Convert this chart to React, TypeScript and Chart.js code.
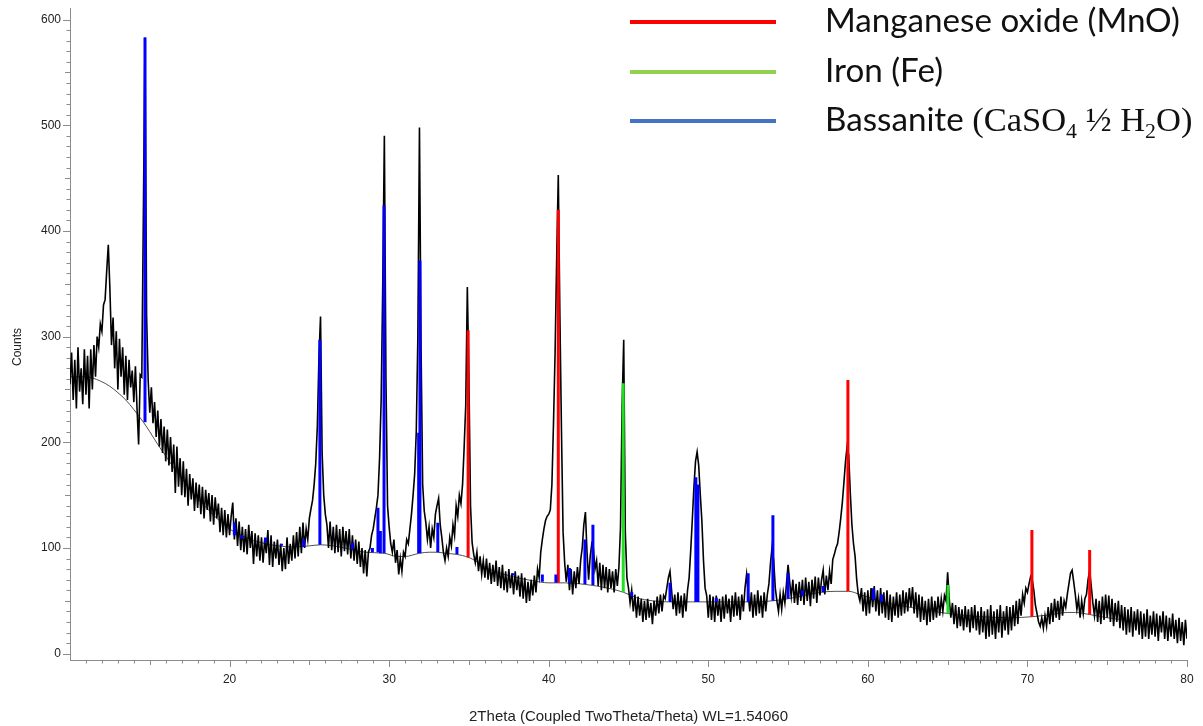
import React, { useEffect, useRef } from "react";
import { Chart, registerables } from "chart.js";

Chart.register(...registerables);

// ---- measured XRD pattern (counts), 2Theta from 10.0 in 0.1 deg steps ----
const START_2THETA = 10;
const STEP_2THETA = 0.1;

const COUNTS_10S = [
  255, 285, 240, 278, 232, 290, 248, 270, 236, 288,
  245, 282, 232, 288, 250, 292, 262, 300, 290, 312,
  305, 330, 335, 362, 387, 345, 292, 318, 270, 305,
  250, 298, 262, 290, 245, 282, 240, 278, 252, 268,
  238, 272, 232, 198, 264, 262, 420, 583, 320, 258,
  228, 252, 218, 238, 205, 230, 196, 222, 190, 215,
  182, 212, 178, 205, 172, 198, 152, 196, 158, 185,
  150, 182, 148, 175, 140, 170, 146, 166, 135, 162,
  138, 160, 132, 158, 128, 155, 136, 152, 125, 150,
  122, 148, 128, 142, 115, 138, 112, 136, 110, 132,
];
const COUNTS_20S = [
  112, 130, 143, 108, 128, 102, 125, 98, 120, 96,
  118, 94, 122, 100, 116, 85, 114, 92, 112, 88,
  110, 86, 108, 95, 117, 84, 112, 82, 106, 90,
  108, 84, 104, 78, 100, 80, 110, 85, 104, 88,
  112, 90, 115, 92, 120, 95, 124, 100, 118, 108,
  128, 137, 145, 160, 180, 215, 280, 319, 190, 150,
  132, 122, 100, 125, 98, 120, 95, 122, 96, 118,
  92, 120, 97, 116, 94, 118, 90, 112, 88, 108,
  85, 106, 82, 100, 76, 98, 73, 96, 100, 112,
  118, 128, 138, 150, 185, 240, 350, 490, 260, 140,
];
const COUNTS_30S = [
  120, 104, 96, 108, 86, 98, 75, 90, 78, 96,
  92, 108, 104, 118, 132, 150, 170, 210, 300, 498,
  290, 160, 135, 124, 108, 120, 100, 118, 110, 132,
  140, 147, 122, 110, 96, 88, 100, 92, 110, 102,
  122, 112, 140, 130, 150, 142, 160, 195, 235, 347,
  260, 140, 105, 94, 86, 96, 78, 92, 75, 88,
  72, 90, 70, 86, 66, 84, 68, 88, 64, 82,
  62, 84, 60, 78, 58, 80, 62, 76, 56, 78,
  60, 74, 54, 76, 52, 72, 48, 68, 50, 70,
  55, 74, 58, 80, 72, 96, 108, 118, 126, 130,
];
const COUNTS_40S = [
  132, 136, 160, 218, 285, 375, 453, 320, 210, 115,
  86, 68, 84, 60, 80, 56, 78, 62, 82, 66,
  88, 100, 122, 134, 96, 70, 92, 104, 100, 80,
  88, 64, 86, 60, 84, 62, 82, 58, 80, 62,
  78, 58, 80, 64, 82, 120, 235, 297, 115, 72,
  62, 48, 60, 40, 56, 34, 54, 36, 52, 30,
  50, 32, 52, 34, 48, 28, 50, 36, 54, 38,
  56, 40, 55, 52, 62, 72, 78, 60, 42, 56,
  36, 58, 38, 55, 34, 57, 40, 60, 72, 98,
  127, 158, 182, 191, 178, 150, 125, 88, 62, 55,
];
const COUNTS_50S = [
  34, 56, 32, 54, 30, 55, 36, 52, 30, 54,
  33, 56, 38, 52, 30, 55, 35, 58, 36, 54,
  32, 56, 40, 62, 75, 58, 40, 58, 34, 56,
  36, 60, 38, 55, 34, 58, 40, 56, 66, 86,
  101, 88, 62, 50, 40, 56, 42, 58, 48, 66,
  84, 68, 54, 70, 48, 66, 46, 68, 50, 70,
  46, 72, 50, 68, 45, 70, 52, 73, 48, 72,
  55, 70, 79, 56, 74, 60, 78, 66, 89, 94,
  100, 104, 115, 128, 143, 162, 182, 196, 188, 152,
  122, 104, 92, 70, 56, 50, 62, 40, 58, 36,
];
const COUNTS_60S = [
  60, 38, 62, 44, 64, 40, 60, 36, 62, 38,
  58, 34, 60, 32, 56, 30, 54, 36, 58, 34,
  56, 36, 60, 38, 58, 40, 62, 44, 63, 38,
  58, 34, 56, 30, 54, 32, 50, 27, 52, 30,
  54, 32, 50, 34, 54, 36, 52, 40, 55, 50,
  77, 52, 34, 48, 28, 46, 24, 44, 26, 42,
  22, 45, 25, 42, 20, 44, 24, 46, 22, 40,
  18, 44, 20, 40, 14, 42, 16, 46, 18, 40,
  14, 42, 20, 46, 15, 40, 22, 45, 18, 44,
  22, 46, 26, 50, 28, 52, 36, 56, 48, 62,
];
const COUNTS_70S = [
  58, 66, 73, 70, 60, 46, 38, 30, 26, 34,
  24, 36, 26, 44, 28, 48, 30, 52, 34, 50,
  32, 54, 36, 50, 44, 56, 66, 76, 79, 68,
  56, 42, 52, 34, 50, 38, 52, 56, 70, 79,
  64, 48, 36, 52, 30, 50, 28, 54, 32, 56,
  34, 55, 30, 52, 26, 48, 30, 50, 24, 46,
  22, 44, 18, 42, 20, 44, 16, 40, 22, 42,
  18, 40, 14, 38, 16, 42, 14, 36, 18, 40,
  16, 38, 12, 36, 20, 40, 14, 36, 12, 34,
  16, 38, 14, 32, 10, 34, 12, 30, 8, 32,
];
const COUNTS_80 = [14];

// ---- fitted background ----
const BACKGROUND_2THETA = [
  10, 11, 11.9, 12.5, 13, 13.5, 14, 14.6, 15, 15.5,
  16, 16.5, 17, 17.5, 18, 18.5, 19, 19.5, 20, 21,
  22, 23, 24, 25, 25.7, 26.5, 27.5, 28.5, 29.7, 30.5,
  31, 31.9, 32.5, 33, 33.5, 34.2, 35, 35.5, 36, 37,
  38, 39, 40, 41, 42, 43, 44, 44.7, 45.5, 46.5,
  47.5, 49, 51, 53, 54, 55, 56, 57, 58, 58.8,
  59.5, 60.5, 61.5, 63, 65, 67, 69, 70.3, 71.5, 72.5,
  73, 73.9, 75, 76,
];
const BACKGROUND_COUNTS = [
  262, 262, 258, 253, 247, 240, 231, 219, 210, 198,
  187, 176, 166, 156, 147, 139, 131, 124, 118, 110,
  105, 102, 101, 102, 103, 102, 99, 96, 95, 92,
  92, 95, 96, 96, 95, 94, 91, 87, 82, 76,
  72, 69, 67, 67, 66, 64, 61, 58, 53, 50,
  49, 49, 49, 49, 50, 52, 55, 58, 59, 59,
  56, 51, 47, 43, 38, 35, 34, 35, 37, 39,
  39, 37, 34, 32,
];

// ---- reference patterns (stick positions, top and base counts) ----
const MNO_2THETA = [34.95, 40.6, 58.75, 70.28, 73.9];
const MNO_TOP = [306, 420, 259, 117, 98];
const MNO_BASE = [91, 67, 59, 35, 37];

const FE_2THETA = [44.67, 65.02];
const FE_TOP = [256, 65];
const FE_BASE = [58, 38];

const BASSANITE_2THETA = [
  14.7, 20.3, 20.75, 22.25, 23.25, 24.65, 25.66, 27.7, 28.95, 29.3,
  29.45, 29.68, 31.85, 31.93, 33.05, 34.25, 37.76, 39.6, 40.45, 41.3,
  42.27, 42.77, 45.2, 47.6, 49.22, 49.35, 50.5, 52.5, 54.05, 55.0,
  55.9, 57.2, 60.35, 60.85,
];
const BASSANITE_TOP = [
  583, 124, 112, 110, 104, 108, 297, 105, 100, 138,
  116, 424, 209, 372, 124, 101, 76, 75, 75, 81,
  108, 122, 58, 67, 167, 160, 53, 76, 131, 76,
  60, 64, 62, 56,
];
const BASSANITE_BASE = [
  219, 112, 109, 105, 102, 101, 103, 99, 96, 96,
  95, 95, 95, 95, 96, 94, 74, 68, 67, 67,
  66, 65, 54, 49, 49, 49, 49, 49, 50, 52,
  55, 58, 51, 49,
];

// ---- axes ----
const X_MIN = 10;
const X_MAX = 80;
const Y_MIN = -6;
const Y_MAX = 611;
const X_TICKS = [20, 30, 40, 50, 60, 70, 80];
const Y_TICKS = [0, 100, 200, 300, 400, 500, 600];
const X_TITLE = "2Theta (Coupled TwoTheta/Theta) WL=1.54060";
const Y_TITLE = "Counts";

// ---- legend ----
type Part = { text: string; serif?: boolean; sub?: boolean };
const LEGEND_COLORS = ["#FF0000", "#92D050", "#4472C4"];
const LEGEND_TEXTS: Part[][] = [
  [{ text: "Manganese oxide (MnO)" }],
  [{ text: "Iron (Fe)" }],
  [
    { text: "Bassanite " },
    { text: "(CaSO", serif: true },
    { text: "4", serif: true, sub: true },
    { text: " \u00BD H", serif: true },
    { text: "2", serif: true, sub: true },
    { text: "O)", serif: true },
  ],
];

const AXIS_COLOR = "#8c8c8c";
const TEXT_COLOR = "#222222";
const SANS = "'Liberation Sans', Arial, sans-serif";
const LEGEND_SANS = "Lato, 'Open Sans', sans-serif";
const LEGEND_SERIF = "'Liberation Serif', 'DejaVu Serif', serif";

function stickPoints(pos: number[], top: number[], base: number[]) {
  const pts: { x: number; y: number | null }[] = [];
  pos.forEach((p, i) => {
    pts.push({ x: p, y: base[i] }, { x: p, y: top[i] }, { x: p, y: null });
  });
  return pts;
}

const decorations = {
  id: "xrdDecorations",
  afterDraw(chart: any) {
    const { ctx, chartArea } = chart;
    const xs = chart.scales.x;
    const ys = chart.scales.y;
    ctx.save();
    // minor / major ticks
    ctx.strokeStyle = AXIS_COLOR;
    ctx.lineWidth = 1;
    ctx.beginPath();
    for (let t = X_MIN + 1; t <= X_MAX; t++) {
      const px = Math.round(xs.getPixelForValue(t)) + 0.5;
      const len = t % 10 === 0 ? 7 : t % 5 === 0 ? 5 : 3.5;
      ctx.moveTo(px, chartArea.bottom);
      ctx.lineTo(px, chartArea.bottom + len);
    }
    for (let v = 0; v <= 600; v += 10) {
      const py = Math.round(ys.getPixelForValue(v)) + 0.5;
      const len = v % 100 === 0 ? 7 : v % 50 === 0 ? 5 : 3.5;
      ctx.moveTo(chartArea.left, py);
      ctx.lineTo(chartArea.left - len, py);
    }
    ctx.stroke();

    // y axis title
    ctx.save();
    ctx.translate(18, 347);
    ctx.rotate(-Math.PI / 2);
    ctx.fillStyle = TEXT_COLOR;
    ctx.font = `12px ${SANS}`;
    ctx.textAlign = "center";
    ctx.textBaseline = "middle";
    ctx.fillText(Y_TITLE, 0, 0);
    ctx.restore();

    // legend (top right)
    const lineX0 = 630;
    const lineX1 = 776;
    const textX = 825;
    const rowY = [22, 72, 121];
    ctx.font = `30px ${LEGEND_SANS}`;
    const w = ctx.measureText("Manganese oxide (MnO)").width;
    const size = (30 * 355) / w;
    LEGEND_TEXTS.forEach((parts, i) => {
      ctx.strokeStyle = LEGEND_COLORS[i];
      ctx.lineWidth = 4;
      ctx.beginPath();
      ctx.moveTo(lineX0, rowY[i]);
      ctx.lineTo(lineX1, rowY[i]);
      ctx.stroke();
      let x = textX;
      const base = rowY[i] + 10;
      ctx.fillStyle = "#111";
      ctx.textAlign = "left";
      ctx.textBaseline = "alphabetic";
      parts.forEach((p) => {
        const fs = p.serif ? (p.sub ? size * 0.66 : size * 1.04) : size;
        ctx.font = `${fs}px ${p.serif ? LEGEND_SERIF : LEGEND_SANS}`;
        ctx.fillText(p.text, x, base + (p.sub ? size * 0.2 : 0));
        x += ctx.measureText(p.text).width;
      });
    });
    ctx.restore();
  },
};

export default function App() {
  const canvasRef = useRef<HTMLCanvasElement | null>(null);

  useEffect(() => {
    const canvas = canvasRef.current;
    if (!canvas) return;
    const counts = [
      ...COUNTS_10S, ...COUNTS_20S, ...COUNTS_30S, ...COUNTS_40S,
      ...COUNTS_50S, ...COUNTS_60S, ...COUNTS_70S, ...COUNTS_80,
    ];
    const trace = counts.map((c, i) => ({
      x: Math.round((START_2THETA + i * STEP_2THETA) * 100) / 100,
      y: c,
    }));
    const background = BACKGROUND_2THETA.map((t, i) => ({ x: t, y: BACKGROUND_COUNTS[i] }));

    const stickStyle = {
      type: "line" as const,
      pointRadius: 0,
      borderWidth: 3,
      spanGaps: false,
      borderCapStyle: "butt" as const,
    };

    const chart = new Chart(canvas, {
      type: "line",
      data: {
        datasets: [
          {
            ...stickStyle,
            label: "Bassanite",
            data: stickPoints(BASSANITE_2THETA, BASSANITE_TOP, BASSANITE_BASE) as any,
            borderColor: "#0000FF",
            order: 0,
          },
          {
            ...stickStyle,
            label: "Manganese oxide (MnO)",
            data: stickPoints(MNO_2THETA, MNO_TOP, MNO_BASE) as any,
            borderColor: "#FF0000",
            order: 0,
          },
          {
            ...stickStyle,
            label: "Iron (Fe)",
            data: stickPoints(FE_2THETA, FE_TOP, FE_BASE) as any,
            borderColor: "#22DD22",
            order: 0,
          },
          {
            label: "Pattern",
            data: trace,
            borderColor: "#000000",
            borderWidth: 1.6,
            pointRadius: 0,
            tension: 0,
            order: 1,
          },
          {
            label: "Background",
            data: background,
            borderColor: "#505050",
            borderWidth: 1,
            pointRadius: 0,
            cubicInterpolationMode: "monotone",
            order: 2,
          },
        ],
      },
      options: {
        animation: false,
        responsive: false,
        devicePixelRatio: 1,
        events: [],
        layout: { padding: { left: 0, top: 8, right: 16, bottom: 0 } },
        plugins: { legend: { display: false }, tooltip: { enabled: false } },
        scales: {
          x: {
            type: "linear",
            min: X_MIN,
            max: X_MAX,
            afterBuildTicks: (s: any) => {
              s.ticks = X_TICKS.map((v) => ({ value: v }));
            },
            afterFit: (s: any) => {
              s.height = 66;
              s.paddingLeft = 0;
              s.paddingRight = 0;
            },
            grid: { display: false, drawTicks: false },
            border: { display: true, color: AXIS_COLOR, width: 1 },
            ticks: {
              padding: 12,
              color: TEXT_COLOR,
              font: { family: SANS, size: 12 },
              maxRotation: 0,
              autoSkip: false,
            },
            title: {
              display: true,
              text: X_TITLE,
              color: TEXT_COLOR,
              font: { family: SANS, size: 15 },
              padding: { top: 4, bottom: 0 },
            },
          },
          y: {
            type: "linear",
            min: Y_MIN,
            max: Y_MAX,
            afterBuildTicks: (s: any) => {
              s.ticks = Y_TICKS.map((v) => ({ value: v }));
            },
            afterFit: (s: any) => {
              s.width = 70;
              s.paddingTop = 0;
              s.paddingBottom = 0;
            },
            grid: { display: false, drawTicks: false },
            border: { display: true, color: AXIS_COLOR, width: 1 },
            ticks: {
              padding: 9,
              color: TEXT_COLOR,
              font: { family: SANS, size: 12 },
              autoSkip: false,
            },
            title: { display: false, text: Y_TITLE },
          },
        },
      },
      plugins: [decorations],
    });
    return () => chart.destroy();
  }, []);

  return (
    <div style={{ position: "absolute", left: 0, top: 0, width: 1203, height: 726, background: "#fff" }}>
      <canvas ref={canvasRef} width={1203} height={726} style={{ display: "block" }} />
    </div>
  );
}
